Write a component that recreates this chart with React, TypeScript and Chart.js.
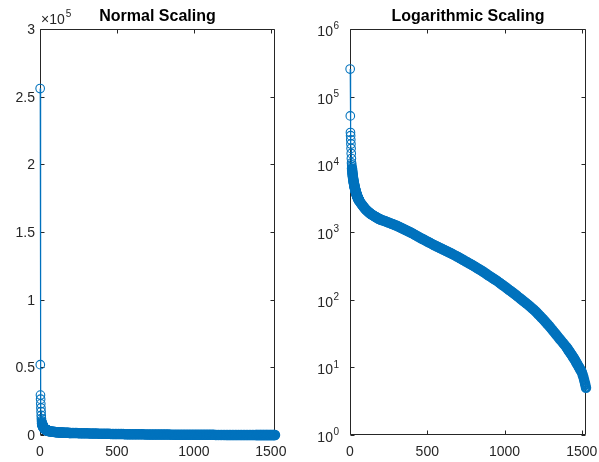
import React, { useEffect, useRef } from "react";
import { Chart, registerables } from "chart.js";

Chart.register(...registerables);

// ---- data ----
const sampleIndex = [
  1, 2, 3, 4, 5, 6, 7, 8, 9, 10, 11, 12, 13, 14, 15, 16, 17, 18, 19, 20,
  21, 22, 23, 24, 25, 26, 27, 28, 29, 30, 31, 32, 33, 34, 35, 36, 37, 38, 39, 40,
  41, 42, 43, 44, 45, 46, 47, 48, 49, 50, 51, 52, 53, 54, 55, 56, 57, 58, 59, 60,
  65, 70, 75, 80, 85, 90, 95, 100, 105, 110, 115, 120, 125, 130, 135, 140,
  145, 150, 155, 160, 165, 170, 175, 180, 185, 190, 195, 200,
  210, 220, 230, 240, 250, 260, 270, 280, 290, 300,
  310, 320, 330, 340, 350, 360, 370, 380, 390, 400,
  410, 420, 430, 440, 450, 460, 470, 480, 490, 500,
  510, 520, 530, 540, 550, 560, 570, 580, 590, 600,
  610, 620, 630, 640, 650, 660, 670, 680, 690, 700,
  710, 720, 730, 740, 750, 760, 770, 780, 790, 800,
  810, 820, 830, 840, 850, 860, 870, 880, 890, 900,
  910, 920, 930, 940, 950, 960, 970, 980, 990, 1000,
  1010, 1020, 1030, 1040, 1050, 1060, 1070, 1080, 1090, 1100,
  1110, 1120, 1130, 1140, 1150, 1160, 1170, 1180, 1190, 1200,
  1210, 1220, 1230, 1240, 1250, 1260, 1270, 1280, 1290, 1300,
  1310, 1320, 1330, 1340, 1350, 1360, 1370, 1380, 1390, 1400,
  1405, 1410, 1415, 1420, 1425, 1430, 1435, 1440, 1445, 1450,
  1455, 1460, 1465, 1470, 1475, 1480, 1485, 1490, 1495, 1500,
  1505, 1510, 1515, 1520, 1523, 1527,
];

const sampleValue = [
  256000, 52000, 29500, 26500, 23000, 20000, 17200, 14500, 12200, 10500,
  9800, 9200, 8700, 8200, 7800, 7400, 7100, 6800, 6500, 6250,
  6000, 5800, 5600, 5450, 5300, 5150, 5000, 4870, 4750, 4630,
  4520, 4420, 4320, 4230, 4140, 4060, 3980, 3900, 3830, 3760,
  3700, 3640, 3580, 3520, 3470, 3420, 3370, 3320, 3280, 3240,
  3200, 3160, 3120, 3090, 3050, 3020, 2990, 2960, 2930, 2900,
  2780, 2670, 2570, 2480, 2400, 2320, 2250, 2180, 2120, 2070, 2020, 1970,
  1930, 1890, 1850, 1820, 1790, 1760, 1730, 1700, 1680, 1650, 1630, 1600,
  1580, 1560, 1540, 1520,
  1493, 1466, 1439, 1409, 1380, 1352, 1324, 1297, 1271, 1245,
  1213, 1183, 1153, 1125, 1096, 1069, 1042, 1016, 991, 966,
  938, 910, 883, 857, 832, 809, 787, 766, 745, 724,
  705, 685, 667, 649, 631, 615, 600, 585, 570, 556,
  542, 528, 515, 502, 490, 476, 463, 451, 439, 427,
  414, 402, 390, 378, 367, 356, 346, 336, 326, 316,
  306, 296, 287, 278, 269, 260, 251, 243, 234, 226,
  219, 211, 204, 197, 191, 183, 176, 169, 163, 157,
  151, 145, 139, 134, 129, 124, 119, 114, 109, 105,
  100.5, 96.4, 92.5, 88.7, 85.1, 81.3, 77.6, 74.1, 70.8, 67.6,
  64.0, 60.5, 57.3, 54.2, 51.3, 48.3, 45.5, 42.9, 40.4, 38.0,
  35.6, 33.4, 31.3, 29.4, 27.5, 25.8, 24.2, 22.7, 21.3, 20.0,
  19.2, 18.5, 17.7, 17.1, 16.4, 15.8, 15.2, 14.6, 14.0, 13.5,
  12.9, 12.3, 11.7, 11.2, 10.7, 10.2, 9.8, 9.3, 8.9, 8.5,
  7.85, 7.2, 6.5, 5.9, 5.5, 5.0,
];

const xTicks = [0, 500, 1000, 1500];
const xTickLabels = ["0", "500", "1000", "1500"];
const linearYTicks = [0, 50000, 100000, 150000, 200000, 250000, 300000];
const linearYTickLabels = ["0", "0.5", "1", "1.5", "2", "2.5", "3"];
const linearExponent = "5";
const logYTicks = [1, 10, 100, 1000, 10000, 100000, 1000000];
const logYExponents = ["0", "1", "2", "3", "4", "5", "6"];
const chartTitles = ["Normal Scaling", "Logarithmic Scaling"];

const X_MAX = 1527;
const BLUE = "#0072BD";
const AXIS = "#262626";
const FONT = "'Liberation Sans', Arial, Helvetica, sans-serif";

type PanelKind = "linear" | "log";

function makeAxesPlugin(kind: PanelKind, title: string) {
  return {
    id: "matlabAxes",
    beforeDatasetsDraw(chart: any) {
      const { ctx, chartArea } = chart;
      const { left, right, top, bottom } = chartArea;
      const xs = chart.scales.x;
      const ys = chart.scales.y;
      ctx.save();
      ctx.strokeStyle = AXIS;
      ctx.lineWidth = 1;
      const L = Math.round(left) + 0.5;
      const R = Math.round(right) - 0.5;
      const T = Math.round(top) + 0.5;
      const B = Math.round(bottom) - 0.5;
      ctx.beginPath();
      ctx.moveTo(L, T);
      ctx.lineTo(R, T);
      ctx.lineTo(R, B);
      ctx.lineTo(L, B);
      ctx.closePath();
      ctx.stroke();
      const tl = 4;
      ctx.beginPath();
      xTicks.forEach((v) => {
        const px = Math.round(xs.getPixelForValue(v)) + 0.5;
        ctx.moveTo(px, B);
        ctx.lineTo(px, B - tl);
        ctx.moveTo(px, T);
        ctx.lineTo(px, T + tl);
      });
      const yt = kind === "linear" ? linearYTicks : logYTicks;
      yt.forEach((v) => {
        const py = Math.round(ys.getPixelForValue(v)) + 0.5;
        ctx.moveTo(L, py);
        ctx.lineTo(L + tl, py);
        ctx.moveTo(R, py);
        ctx.lineTo(R - tl, py);
      });
      ctx.stroke();
      ctx.restore();
    },
    afterDraw(chart: any) {
      const { ctx, chartArea } = chart;
      const { left, right, top, bottom } = chartArea;
      const xs = chart.scales.x;
      const ys = chart.scales.y;
      ctx.save();
      ctx.fillStyle = AXIS;
      ctx.font = `14px ${FONT}`;
      ctx.textAlign = "center";
      ctx.textBaseline = "middle";
      xTicks.forEach((v, i) => {
        ctx.fillText(xTickLabels[i], xs.getPixelForValue(v), bottom + 17);
      });
      if (kind === "linear") {
        ctx.textAlign = "right";
        linearYTicks.forEach((v, i) => {
          ctx.fillText(linearYTickLabels[i], left - 5, ys.getPixelForValue(v) + 1);
        });
        ctx.textAlign = "left";
        ctx.font = `14px ${FONT}`;
        const base = "\u00d710";
        ctx.fillText(base, left + 1, top - 9);
        const w = ctx.measureText(base).width;
        ctx.font = `10px ${FONT}`;
        ctx.fillText(linearExponent, left + 2 + w, top - 15);
      } else {
        logYTicks.forEach((v, i) => {
          const py = ys.getPixelForValue(v);
          ctx.font = `10px ${FONT}`;
          const ws = ctx.measureText(logYExponents[i]).width;
          const supRight = left - 11;
          ctx.textAlign = "right";
          ctx.fillText(logYExponents[i], supRight, py - 2.5);
          ctx.font = `14px ${FONT}`;
          ctx.fillText("10", supRight - ws - 0.5, py + 3);
        });
      }
      ctx.fillStyle = "#000000";
      ctx.font = `bold 16px ${FONT}`;
      ctx.textAlign = "center";
      ctx.textBaseline = "alphabetic";
      ctx.fillText(title, (left + right) / 2, 21);
      ctx.restore();
    },
  };
}

function Panel(props: {
  kind: PanelKind;
  title: string;
  left: number;
  width: number;
  padding: { left: number; right: number; top: number; bottom: number };
}) {
  const ref = useRef<HTMLCanvasElement | null>(null);
  useEffect(() => {
    if (!ref.current) return;
    const points = sampleIndex.map((x, i) => ({ x, y: sampleValue[i] }));
    const yScale: any =
      props.kind === "linear"
        ? { type: "linear", min: 0, max: 300000, display: false }
        : { type: "logarithmic", min: 1, max: 1000000, display: false };
    const chart = new Chart(ref.current, {
      type: "line",
      data: {
        datasets: [
          {
            data: points,
            borderColor: BLUE,
            borderWidth: 1,
            pointRadius: (c: any) => (c.dataIndex < 12 ? 4.3 : 3.9),
            pointBorderWidth: (c: any) => (c.dataIndex < 12 ? 1.1 : 2.7),
            pointBorderColor: BLUE,
            pointBackgroundColor: "rgba(0,0,0,0)",
            pointStyle: "circle",
            tension: 0,
            fill: false,
            clip: false as any,
          },
        ],
      },
      options: {
        animation: false,
        responsive: false,
        devicePixelRatio: 1,
        events: [],
        layout: { padding: props.padding },
        plugins: {
          legend: { display: false },
          tooltip: { enabled: false },
          title: { display: false },
        },
        scales: {
          x: { type: "linear", min: 0, max: X_MAX, display: false },
          y: yScale,
        },
      } as any,
      plugins: [makeAxesPlugin(props.kind, props.title)],
    });
    return () => chart.destroy();
  }, []);
  return (
    <canvas
      ref={ref}
      width={props.width}
      height={462}
      style={{
        position: "absolute",
        left: props.left,
        top: 0,
        width: props.width,
        height: 462,
      }}
    />
  );
}

export default function App() {
  return (
    <div
      style={{
        position: "absolute",
        left: 0,
        top: 0,
        width: 599,
        height: 462,
        background: "#ffffff",
        overflow: "hidden",
      }}
    >
      <Panel
        kind="linear"
        title={chartTitles[0]}
        left={0}
        width={300}
        padding={{ left: 40, right: 25, top: 29, bottom: 27 }}
      />
      <Panel
        kind="log"
        title={chartTitles[1]}
        left={300}
        width={299}
        padding={{ left: 50, right: 13, top: 29, bottom: 27 }}
      />
    </div>
  );
}
